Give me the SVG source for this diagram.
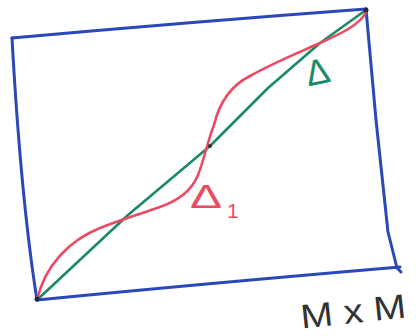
<svg xmlns="http://www.w3.org/2000/svg" width="416" height="336" viewBox="0 0 416 336">
<style>
.ink{fill:none;stroke-linecap:round;stroke-linejoin:round}
.blue{stroke:#2a48b8;stroke-width:3}
.red{stroke:#ec4a62;stroke-width:2.6}
.green{stroke:#1c8a66;stroke-width:2.6}
.lbl{font-family:"Liberation Sans",Arial,sans-serif}
</style>
<rect width="416" height="336" fill="#ffffff"/>
<g id="frame">
<path class="ink blue" d="M12,38 Q190,22 366,9"/>
<path class="ink blue" d="M366,9 L376,120 L388,232 L397,268 L401,272"/>
<path class="ink blue" d="M12,38 Q21,200 37,300"/>
<path class="ink blue" d="M37,300 Q200,284 400,267"/>
</g>
<g id="curves">
<path class="ink green" d="M37,300 L128,215 L210,146 L268,88 L320,43 L366,10"/>
<path class="ink red" d="M37,300 C45,265 70,240 100,228 C120,220 140,214 160,207 C180,200 192,190 198,175 C204,160 208,140 214,125 C220,100 232,85 250,76 C275,62 300,52 320,43 C340,34 360,25 366,12"/>
<circle cx="37" cy="299" r="2.5" fill="#1b2a55"/>
<circle cx="366" cy="10" r="2.5" fill="#1b2a55"/>
<circle cx="210" cy="146" r="2" fill="#332"/>
</g>
<g id="labels">
<text class="lbl" x="305" y="84" font-size="36" fill="#1c8a66" transform="rotate(-12 319 70)">Δ</text>
<text class="lbl" x="190" y="208" font-size="33" fill="#ec4a62" textLength="32" lengthAdjust="spacingAndGlyphs">Δ</text>
<text class="lbl" x="227" y="218" font-size="21" fill="#ec4a62">1</text>
<text class="lbl" x="300" y="323" font-size="34" fill="#333333" textLength="106" lengthAdjust="spacingAndGlyphs" transform="rotate(-6 353 310)">M x M</text>
</g>
</svg>
